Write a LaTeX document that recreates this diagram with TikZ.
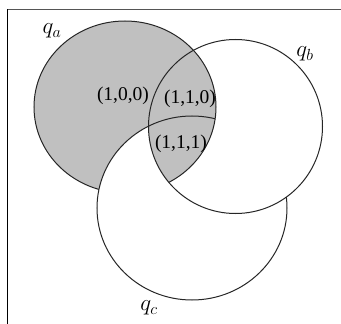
\RequirePackage{fix-cm}
\documentclass[tikz,border=0pt]{standalone}
\usepackage{fontspec}
\setmainfont{Liberation Serif}
\definecolor{venngray}{HTML}{C0C0C0}
\definecolor{framegray}{HTML}{555555}
\newcommand{\qashape}{(ca) ellipse [x radius=91pt, y radius=86pt]}
\newcommand{\qbshape}{(cb) circle [radius=87pt]}
\newcommand{\qcshape}{(cc) ellipse [x radius=95pt, y radius=92pt]}

\begin{document}
\begin{tikzpicture}[
    x=1pt, y=-1pt,
    outline/.style={draw=black!85, line width=1pt},
    setlabel/.style={font=\fontsize{23}{23}\selectfont, inner sep=0pt},
    region/.style={font=\fontsize{19.5}{19.5}\selectfont, inner sep=0pt}
]
\useasboundingbox (0,0) rectangle (341,324);
\coordinate (ca) at (125,107);
\coordinate (cb) at (235.5,126.5);
\coordinate (cc) at (192,208);
\coordinate (frame) at (7,9);

\draw[framegray, line width=1pt] (frame) -- ++(334,0);
\draw[black, line width=1pt] (frame) -- ++(0,315);

\fill[venngray] \qashape;
\draw[outline] \qashape;
\filldraw[outline, fill=white] \qcshape;
\fill[white] \qbshape;
\begin{scope}
    \clip \qashape;
    \fill[venngray] \qbshape;
\end{scope}
\begin{scope}
    \clip \qbshape;
    \draw[outline] \qashape;
    \clip \qashape;
    \draw[outline] \qcshape;
\end{scope}
\draw[outline] \qbshape;

\node[setlabel] (la) at (52,31) {$q_a$};
\node[setlabel] (lb) at (305,54) {$q_b$};
\node[setlabel] (lc) at (149,308) {$q_c$};

\node[region] (r100) at (123,96) {(1,0,0)};
\node[region] (r110) at (190,99) {(1,1,0)};
\node[region] (r111) at (181,144) {(1,1,1)};
\end{tikzpicture}
\end{document}
